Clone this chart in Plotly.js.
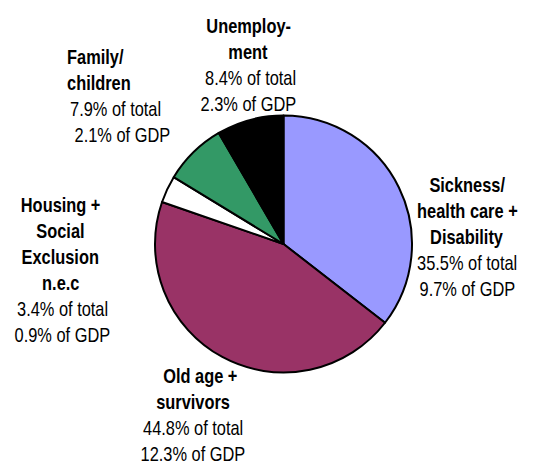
<!DOCTYPE html>
<html>
<head>
<meta charset="utf-8">
<script src="https://cdn.plot.ly/plotly-3.0.1.min.js"></script>
<style>html,body{margin:0;padding:0;background:#fff;}#chart{width:535px;height:462px;}</style>
</head>
<body>
<div id="chart"></div>
<script>
// Data
var categories = ["Sickness/ health care + Disability", "Old age + survivors", "Housing + Social Exclusion n.e.c", "Family/ children", "Unemployment"];
var nameLines = [["Sickness/", "health care +", "Disability"], ["Old age +", "survivors"], ["Housing +", "Social", "Exclusion", "n.e.c"], ["Family/", "children"], ["Unemploy-", "ment"]];
var pctTotal = [35.5, 44.8, 3.4, 7.9, 8.4];
var pctGDP = [9.7, 12.3, 0.9, 2.1, 2.3];
var colors = ["#9999FF", "#993366", "#FFFFFF", "#339966", "#000000"];

// Label placement (pixels): per category, x of each line and y of first line
var W = 535, H = 462;
var labelPos = [
  {xs: [467, 467, 467, 467, 467], y0: 185, anchor: ["center","center","center","center","center"]},
  {xs: [200, 193, 193, 193], y0: 376, anchor: ["center","center","center","center"]},
  {xs: [60, 61, 60, 61, 62, 62], y0: 205, anchor: ["center","center","center","center","center","center"]},
  {xs: [65, 65, 115.5, 122.5], y0: 57, anchor: ["left","left","center","center"]},
  {xs: [248, 248, 250, 248], y0: 26, anchor: ["center","center","center","center"]}
];
var lineStep = 26;
var fontFam = "'Liberation Sans', Arial, sans-serif";
var narrow = 0.82; // horizontal condensing to mimic a narrow face

var annotations = [];
categories.forEach(function (c, i) {
  var lines = nameLines[i].map(function (t) { return "<b>" + t + "</b>"; });
  lines.push(pctTotal[i].toFixed(1) + "% of total");
  lines.push(pctGDP[i].toFixed(1) + "% of GDP");
  var p = labelPos[i];
  lines.forEach(function (t, j) {
    annotations.push({
      text: t, xref: "paper", yref: "paper",
      x: p.xs[j] / W, y: 1 - (p.y0 + j * lineStep) / H,
      xanchor: p.anchor[j], yanchor: "middle", showarrow: false,
      font: {family: fontFam, size: 20, color: "#000"}
    });
  });
});

var trace = {
  type: "pie",
  labels: categories,
  values: pctTotal,
  sort: false,
  direction: "clockwise",
  rotation: 0,
  marker: {colors: colors, line: {color: "#000", width: 2}},
  textinfo: "none",
  hoverinfo: "none",
  showlegend: false,
  domain: {x: [155 / W, 412 / W], y: [89.5 / H, 346.5 / H]}
};

var layout = {
  width: W, height: H,
  margin: {l: 0, r: 0, t: 0, b: 0},
  paper_bgcolor: "#fff",
  showlegend: false,
  annotations: annotations,
  font: {family: fontFam}
};

Plotly.newPlot("chart", [trace], layout, {staticPlot: true, displayModeBar: false}).then(function (gd) {
  var groups = gd.querySelectorAll("g.annotation");
  groups.forEach(function (g, k) {
    var t = g.querySelector("text.annotation-text");
    if (!t) return;
    var bb = t.getBBox();
    var a = annotations[k] || {};
    var px = (a.xanchor === "left") ? bb.x : bb.x + bb.width / 2;
    t.setAttribute("transform", "translate(" + px + ",0) scale(" + narrow + ",1) translate(" + (-px) + ",0)");
  });
});
</script>
</body>
</html>
